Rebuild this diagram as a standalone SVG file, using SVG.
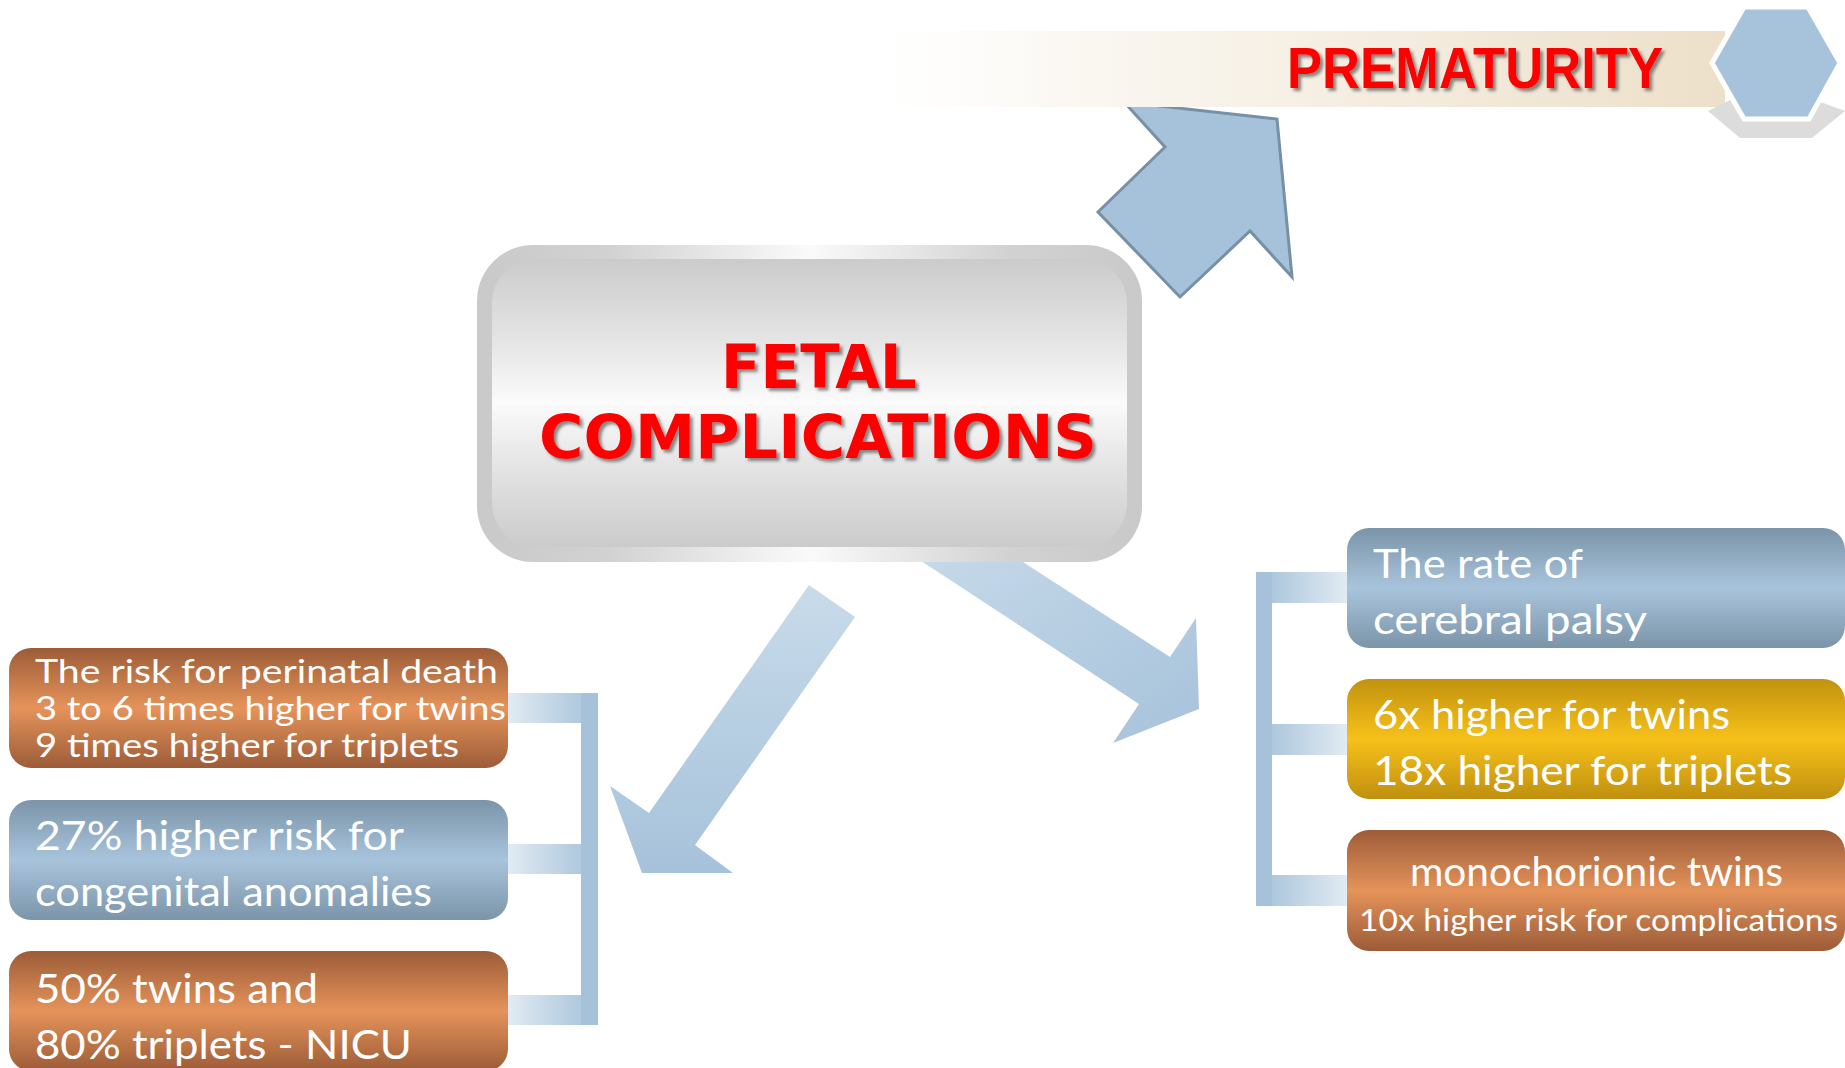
<svg xmlns="http://www.w3.org/2000/svg" width="1845" height="1068" viewBox="0 0 1845 1068">
<style>
.bt{font-family:Lato,"Open Sans","Liberation Sans",sans-serif;fill:#ffffff;}
.title{font-family:"DejaVu Sans",Verdana,sans-serif;font-weight:bold;fill:#ff0000;}
.prem{font-family:"Liberation Sans",Arial,sans-serif;font-weight:bold;fill:#ff0000;}
.bar{fill:#a6c2da;}
</style>
<defs>
<linearGradient id="gOrange" x1="0" y1="0" x2="0" y2="1">
<stop offset="0" stop-color="#9c5c38"/><stop offset="0.5" stop-color="#e5935a"/><stop offset="1" stop-color="#9c5c38"/>
</linearGradient>
<linearGradient id="gBlue" x1="0" y1="0" x2="0" y2="1">
<stop offset="0" stop-color="#7b94a9"/><stop offset="0.5" stop-color="#a8c4dc"/><stop offset="1" stop-color="#7b94a9"/>
</linearGradient>
<linearGradient id="gGold" x1="0" y1="0" x2="0" y2="1">
<stop offset="0" stop-color="#c1920f"/><stop offset="0.5" stop-color="#f7c11a"/><stop offset="1" stop-color="#bf900f"/>
</linearGradient>
<linearGradient id="gBanner" x1="0" y1="0" x2="1" y2="0">
<stop offset="0" stop-color="#ffffff" stop-opacity="0"/><stop offset="0.25" stop-color="#fbf8f3"/><stop offset="1" stop-color="#ede0ca"/>
</linearGradient>
<linearGradient id="gOuter" x1="0" y1="0" x2="1" y2="0">
<stop offset="0" stop-color="#c9c9c9"/><stop offset="0.2" stop-color="#d2d2d2"/><stop offset="0.5" stop-color="#fafafa"/><stop offset="0.8" stop-color="#d2d2d2"/><stop offset="1" stop-color="#c9c9c9"/>
</linearGradient>
<linearGradient id="gInner" x1="0" y1="0" x2="0" y2="1">
<stop offset="0" stop-color="#cbcbcb"/><stop offset="0.3" stop-color="#e6e6e6"/><stop offset="0.5" stop-color="#fbfbfb"/><stop offset="0.7" stop-color="#e6e6e6"/><stop offset="1" stop-color="#cbcbcb"/>
</linearGradient>
<linearGradient id="gStubL" x1="0" y1="0" x2="1" y2="0">
<stop offset="0" stop-color="#e2ebf3"/><stop offset="1" stop-color="#a8c4db"/>
</linearGradient>
<linearGradient id="gStubR" x1="0" y1="0" x2="1" y2="0">
<stop offset="0" stop-color="#a8c4db"/><stop offset="1" stop-color="#e2ebf3"/>
</linearGradient>
<linearGradient id="gArrL" x1="0" y1="0" x2="0" y2="1">
<stop offset="0" stop-color="#c8dbea"/><stop offset="1" stop-color="#a6c2da"/>
</linearGradient>
<linearGradient id="gArrR" x1="0" y1="0" x2="1" y2="1">
<stop offset="0" stop-color="#c6d9e9"/><stop offset="1" stop-color="#a6c2da"/>
</linearGradient>
<filter id="ts" x="-5%" y="-20%" width="110%" height="140%">
<feDropShadow dx="3" dy="3" stdDeviation="1.5" flood-color="#404040" flood-opacity="0.6"/>
</filter>
</defs>

<g id="connectors">
<polygon id="arrow-right" points="912,555 1012,555 1170,657 1196,618 1199,709 1113,743 1139,704" fill="url(#gArrR)"/>
<polygon id="arrow-left" points="809,585 855,617 695,845 733,873 642,873 610,786 649,813" fill="url(#gArrL)"/>
<polygon id="arrow-up" points="1124,102 1277,119 1292,277 1250,231 1180,297 1098,212 1165,147" fill="#a6c2da" stroke="#7890a5" stroke-width="3" stroke-linejoin="miter"/>
<g id="bracket-left">
<rect x="508" y="693" width="82" height="30" fill="url(#gStubL)"/>
<rect x="508" y="844" width="82" height="30" fill="url(#gStubL)"/>
<rect x="508" y="995" width="82" height="30" fill="url(#gStubL)"/>
<rect class="bar" x="581" y="693" width="17" height="332"/>
</g>
<g id="bracket-right">
<rect x="1265" y="572" width="82" height="31" fill="url(#gStubR)"/>
<rect x="1265" y="724" width="82" height="31" fill="url(#gStubR)"/>
<rect x="1265" y="875" width="82" height="31" fill="url(#gStubR)"/>
<rect class="bar" x="1256" y="572" width="16" height="334"/>
</g>
</g>

<g id="prematurity">
<rect x="830" y="31" width="895" height="76" fill="url(#gBanner)"/>
<text class="prem" x="1287" y="88" font-size="57" textLength="376" lengthAdjust="spacingAndGlyphs" filter="url(#ts)">PREMATURITY</text>
<polygon points="1708,111 1730,100 1815,100 1845,111 1812,138 1740,138" fill="#dcdcdc"/>
<polygon points="1712,63 1744,7 1808,7 1840,63 1809,119 1744,119" fill="#a6c3db" stroke="#ffffff" stroke-width="5" stroke-linejoin="miter"/>
</g>

<g id="fetal-complications">
<rect x="477" y="245" width="665" height="317" rx="56" ry="56" fill="url(#gOuter)"/>
<rect x="492" y="259" width="635" height="288" rx="44" ry="44" fill="url(#gInner)"/>
<text class="title" x="721" y="388" font-size="60" textLength="196" lengthAdjust="spacingAndGlyphs" filter="url(#ts)">FETAL</text>
<text class="title" x="539" y="458" font-size="60" textLength="558" lengthAdjust="spacingAndGlyphs" filter="url(#ts)">COMPLICATIONS</text>
</g>

<g id="perinatal-death">
<rect x="9" y="648" width="499" height="120" rx="22" ry="22" fill="url(#gOrange)"/>
<text class="bt" font-size="33"><tspan x="35" y="683" textLength="463" lengthAdjust="spacingAndGlyphs">The risk for perinatal death</tspan><tspan x="35" y="720" textLength="471" lengthAdjust="spacingAndGlyphs">3 to 6 times higher for twins</tspan><tspan x="35" y="757" textLength="424" lengthAdjust="spacingAndGlyphs">9 times higher for triplets</tspan></text>
</g>

<g id="congenital-anomalies">
<rect x="9" y="800" width="499" height="120" rx="22" ry="22" fill="url(#gBlue)"/>
<text class="bt" font-size="41"><tspan x="35" y="850" textLength="369" lengthAdjust="spacingAndGlyphs">27% higher risk for</tspan><tspan x="35" y="906" textLength="397" lengthAdjust="spacingAndGlyphs">congenital anomalies</tspan></text>
</g>

<g id="nicu">
<rect x="9" y="951" width="499" height="120" rx="22" ry="22" fill="url(#gOrange)"/>
<text class="bt" font-size="41"><tspan x="35" y="1003" textLength="283" lengthAdjust="spacingAndGlyphs">50% twins and</tspan><tspan x="35" y="1059" textLength="377" lengthAdjust="spacingAndGlyphs">80% triplets - NICU</tspan></text>
</g>

<g id="cerebral-palsy">
<rect x="1347" y="528" width="498" height="120" rx="22" ry="22" fill="url(#gBlue)"/>
<text class="bt" font-size="41"><tspan x="1373" y="578" textLength="210" lengthAdjust="spacingAndGlyphs">The rate of</tspan><tspan x="1373" y="634" textLength="274" lengthAdjust="spacingAndGlyphs">cerebral palsy</tspan></text>
</g>

<g id="higher-twins">
<rect x="1347" y="679" width="498" height="120" rx="22" ry="22" fill="url(#gGold)"/>
<text class="bt" font-size="41"><tspan x="1373" y="729" textLength="357" lengthAdjust="spacingAndGlyphs">6x higher for twins</tspan><tspan x="1373" y="785" textLength="419" lengthAdjust="spacingAndGlyphs">18x higher for triplets</tspan></text>
</g>

<g id="monochorionic">
<rect x="1347" y="830" width="498" height="121" rx="22" ry="22" fill="url(#gOrange)"/>
<text class="bt"><tspan x="1410" y="886" font-size="40" textLength="373" lengthAdjust="spacingAndGlyphs">monochorionic twins</tspan><tspan x="1359" y="931" font-size="31" textLength="479" lengthAdjust="spacingAndGlyphs">10x higher risk for complications</tspan></text>
</g>
</svg>
